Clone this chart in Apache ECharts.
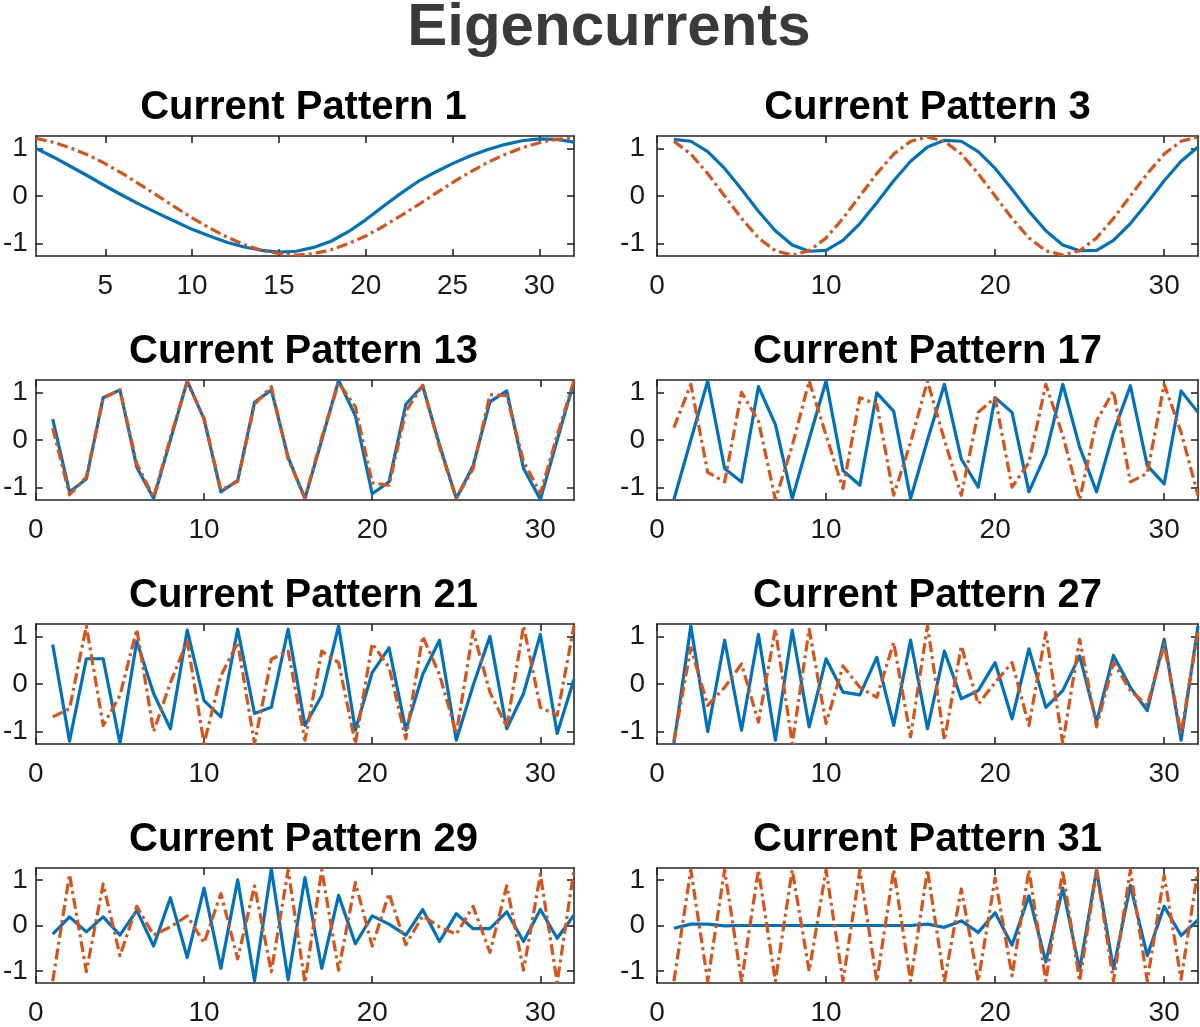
<!DOCTYPE html>
<html>
<head>
<meta charset="utf-8">
<script src="https://cdn.jsdelivr.net/npm/echarts@6/dist/echarts.min.js"></script>
<style>
html,body{margin:0;padding:0;background:#ffffff;}
#chart{width:1200px;height:1027px;}
</style>
</head>
<body>
<div id="chart"></div>
<script>
// ---------------- DATA ----------------
const mainTitle = 'Eigencurrents';
const panelTitles = ['Current Pattern 1','Current Pattern 3','Current Pattern 13','Current Pattern 17',
                     'Current Pattern 21','Current Pattern 27','Current Pattern 29','Current Pattern 31'];
const electrode = [1,2,3,4,5,6,7,8,9,10,11,12,13,14,15,16,17,18,19,20,21,22,23,24,25,26,27,28,29,30,31,32];

const xTicksFirst = [5,10,15,20,25,30];
const xTicksOther = [0,10,20,30];
const yTicks = [-1,0,1];

const p1Blue   = [1.00,0.82,0.62,0.42,0.21,0.01,-0.18,-0.36,-0.53,-0.70,-0.84,-0.97,-1.07,-1.14,-1.18,-1.16,-1.08,-0.95,-0.75,-0.50,-0.22,0.05,0.30,0.50,0.68,0.84,0.97,1.08,1.16,1.20,1.19,1.13];
const p1Orange = [1.21,1.13,1.01,0.86,0.68,0.47,0.24,0.01,-0.23,-0.46,-0.67,-0.86,-1.02,-1.14,-1.21,-1.24,-1.21,-1.13,-1.00,-0.84,-0.64,-0.42,-0.19,0.05,0.28,0.50,0.70,0.87,1.01,1.12,1.19,1.22];

const p3Blue   = [1.19,1.15,0.93,0.58,0.14,-0.32,-0.73,-1.03,-1.16,-1.14,-0.93,-0.58,-0.14,0.32,0.73,1.03,1.17,1.15,0.93,0.58,0.14,-0.32,-0.73,-1.03,-1.15,-1.14,-0.93,-0.58,-0.14,0.32,0.73,1.03];
const p3Orange = [1.15,0.88,0.47,0.00,-0.47,-0.88,-1.15,-1.24,-1.15,-0.88,-0.47,0.00,0.47,0.88,1.15,1.24,1.15,0.88,0.47,0.00,-0.47,-0.88,-1.15,-1.24,-1.15,-0.88,-0.47,0.00,0.47,0.88,1.15,1.24];

const p13Blue   = [0.44,-1.09,-0.82,0.89,1.05,-0.57,-1.23,0.00,1.24,0.44,-1.09,-0.85,0.79,1.05,-0.36,-1.23,0.00,1.25,0.51,-1.13,-0.88,0.75,1.14,-0.10,-1.23,-0.54,0.80,1.03,-0.60,-1.25,0.00,1.22];
const p13Orange = [0.25,-1.15,-0.78,0.88,1.05,-0.50,-1.20,0.05,1.22,0.45,-1.05,-0.87,0.75,1.12,-0.40,-1.22,0.05,1.20,0.70,-0.90,-0.95,0.60,1.15,-0.15,-1.22,-0.60,0.95,0.93,-0.45,-1.12,0.10,1.25];

const p17Blue   = [-1.25,0.00,1.24,-0.60,-0.88,1.12,0.33,-1.23,0.02,1.24,-0.64,-0.95,0.99,0.60,-1.23,0.00,1.17,-0.40,-0.99,0.89,0.58,-1.09,-0.29,1.17,-0.15,-1.09,0.16,1.14,-0.54,-0.92,1.03,0.58];
const p17Orange = [0.26,1.17,-0.68,-0.88,1.00,0.40,-1.25,-0.12,1.24,0.10,-1.02,0.89,0.75,-1.16,-0.05,1.24,0.00,-1.16,0.58,0.89,-0.99,-0.47,1.17,0.10,-1.25,0.40,1.03,-0.88,-0.70,1.17,0.16,-1.16];

const p21Blue   = [0.83,-1.20,0.53,0.53,-1.25,0.90,-0.20,-0.94,1.13,-0.35,-0.69,1.15,-0.62,-0.49,1.15,-0.87,-0.24,1.22,-0.97,0.24,0.76,-0.97,0.20,0.92,-1.18,-0.03,1.00,-0.94,-0.20,1.04,-1.04,0.10];
const p21Orange = [-0.69,-0.52,1.22,-0.87,-0.24,1.15,-1.00,0.03,0.90,-1.25,0.17,0.87,-1.25,0.52,0.69,-1.18,0.69,0.45,-1.25,0.85,0.35,-1.15,1.00,0.20,-1.04,1.11,-0.17,-0.90,1.22,-0.49,-0.66,1.22];

const p27Blue   = [-1.25,1.22,-1.00,0.92,-0.97,1.04,-1.18,1.13,-0.90,0.53,-0.17,-0.23,0.56,-0.87,0.92,-0.94,0.69,-0.31,-0.14,0.45,-0.73,0.74,-0.49,-0.14,0.59,-0.80,0.60,-0.07,-0.56,0.94,-1.18,1.22];
const p27Orange = [-1.20,0.76,-0.45,-0.07,0.42,-0.80,1.15,-1.25,1.15,-0.83,0.38,-0.07,-0.28,0.87,-1.11,1.22,-1.18,0.80,-0.42,0.03,0.45,-0.87,1.08,-1.25,0.94,-0.90,0.45,-0.14,-0.45,0.83,-1.04,1.11];

const p29Blue   = [-0.19,0.19,-0.14,0.19,-0.21,0.33,-0.45,0.61,-0.70,0.82,-0.94,1.00,-1.21,1.24,-1.19,1.05,-0.94,0.66,-0.40,0.21,0.03,-0.21,0.35,-0.35,0.26,-0.07,-0.07,0.30,-0.35,0.35,-0.28,0.23];
const p29Orange = [-1.22,1.12,-1.01,0.91,-0.66,0.42,-0.21,-0.03,0.21,-0.38,0.70,-0.73,0.87,-1.01,1.22,-1.25,1.22,-0.98,0.94,-0.45,0.70,-0.42,0.21,-0.03,-0.19,0.42,-0.59,0.87,-0.98,1.12,-1.25,1.22];

const p31Blue   = [-0.06,0.03,0.03,-0.01,0.00,0.00,0.00,0.00,0.00,0.00,0.00,0.00,0.00,0.00,0.00,0.03,-0.04,0.10,-0.15,0.28,-0.43,0.65,-0.80,0.82,-0.97,1.22,-0.95,0.88,-0.66,0.42,-0.22,0.12];
const p31Orange = [-1.22,1.22,-1.22,1.22,-1.22,1.22,-1.22,1.22,-1.00,1.22,-1.22,1.22,-1.22,1.22,-1.22,1.22,-1.22,0.80,-1.22,1.04,-1.10,1.22,-1.22,1.20,-1.22,1.22,-1.22,1.22,-1.22,1.10,-1.18,1.22];

const blueSets   = [p1Blue,p3Blue,p13Blue,p17Blue,p21Blue,p27Blue,p29Blue,p31Blue];
const orangeSets = [p1Orange,p3Orange,p13Orange,p17Orange,p21Orange,p27Orange,p29Orange,p31Orange];

// ---------------- LAYOUT / STYLE ----------------
const FONT = '"Liberation Sans", Arial, Helvetica, sans-serif';
const colLeft = [33, 657];
const plotW = 541;
const rowTop0 = 136, rowStep = 244, plotH = 120;
const yLim = 1.26;
const axisColor = '#262626';
const BLUE = '#0072BD', ORANGE = '#D95319';

const grids = [], xAxes = [], yAxes = [], series = [], graphics = [];

graphics.push({
  type: 'text', x: 609, y: 28, silent: true,
  style: { text: mainTitle, fontFamily: FONT, fontSize: 60, fontWeight: 'bold',
           fill: '#3a3a3a', align: 'center', verticalAlign: 'middle' }
});

for (let i = 0; i < 8; i++) {
  const col = i % 2, row = Math.floor(i / 2);
  const left = colLeft[col], top = rowTop0 + rowStep * row;
  grids.push({ left: left, top: top, width: plotW, height: plotH, containLabel: false });

  const xMin = (i === 0) ? 1 : 0;
  const xt = (i === 0) ? xTicksFirst : xTicksOther;
  const lineStyle = { color: axisColor, width: 1.6 };

  xAxes.push({
    gridIndex: i, type: 'value', position: 'bottom', min: xMin, max: 32,
    axisLine: { show: true, onZero: false, lineStyle: lineStyle },
    axisTick: { show: true, inside: true, length: 7, customValues: xt, lineStyle: lineStyle },
    axisLabel: { show: true, customValues: xt, fontSize: 28, fontFamily: FONT, color: '#1a1a1a', margin: 16 },
    splitLine: { show: false }
  });
  xAxes.push({
    gridIndex: i, type: 'value', position: 'top', min: xMin, max: 32,
    axisLine: { show: true, onZero: false, lineStyle: lineStyle },
    axisTick: { show: true, inside: true, length: 7, customValues: xt, lineStyle: lineStyle },
    axisLabel: { show: false },
    splitLine: { show: false }
  });
  yAxes.push({
    gridIndex: i, type: 'value', position: 'left', min: -yLim, max: yLim,
    axisLine: { show: true, onZero: false, lineStyle: lineStyle },
    axisTick: { show: true, inside: true, length: 7, customValues: yTicks, lineStyle: lineStyle },
    axisLabel: { show: true, customValues: yTicks, fontSize: 28, fontFamily: FONT, color: '#1a1a1a',
                 margin: col === 0 ? 8 : 12 },
    splitLine: { show: false }
  });
  yAxes.push({
    gridIndex: i, type: 'value', position: 'right', min: -yLim, max: yLim,
    axisLine: { show: true, onZero: false, lineStyle: lineStyle },
    axisTick: { show: true, inside: true, length: 7, customValues: yTicks, lineStyle: lineStyle },
    axisLabel: { show: false },
    splitLine: { show: false }
  });

  series.push({
    type: 'line', xAxisIndex: 2 * i, yAxisIndex: 2 * i, silent: true,
    data: electrode.map((x, k) => [x, blueSets[i][k]]),
    showSymbol: false, symbol: 'none', clip: true,
    lineStyle: { color: BLUE, width: 3.2, join: 'round' }
  });
  series.push({
    type: 'line', xAxisIndex: 2 * i, yAxisIndex: 2 * i, silent: true,
    data: electrode.map((x, k) => [x, orangeSets[i][k]]),
    showSymbol: false, symbol: 'none', clip: true,
    lineStyle: { color: ORANGE, width: 3.2, type: [11, 4, 3, 4], join: 'round' }
  });

  graphics.push({
    type: 'text', x: left + plotW / 2, y: top - 28, silent: true,
    style: { text: panelTitles[i], fontFamily: FONT, fontSize: 40, fontWeight: 'bold',
             fill: '#000000', align: 'center', verticalAlign: 'middle' }
  });
}

const chart = echarts.init(document.getElementById('chart'), null, { renderer: 'canvas' });
chart.setOption({
  animation: false,
  backgroundColor: '#ffffff',
  grid: grids,
  xAxis: xAxes,
  yAxis: yAxes,
  series: series,
  graphic: graphics
});
</script>
</body>
</html>
